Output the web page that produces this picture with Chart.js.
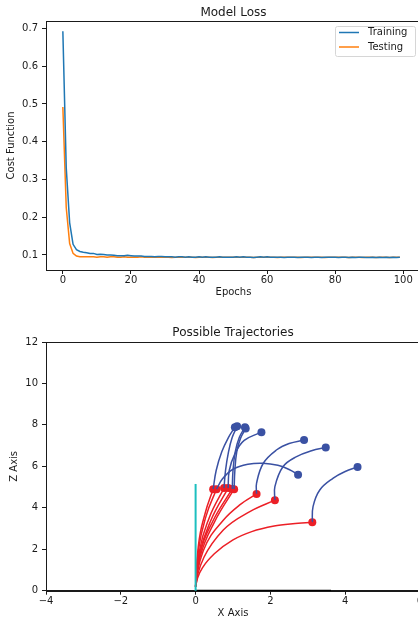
<!DOCTYPE html>
<html>
<head>
<meta charset="utf-8">
<script src="https://cdn.jsdelivr.net/npm/chart.js@4.4.1/dist/chart.umd.min.js"></script>
<style>
  html, body { margin: 0; padding: 0; overflow: hidden; background: #fff; width: 418px; height: 617px; }
  canvas { position: absolute; left: 0; display: block; }
  #lossChart { top: 0; }
  #trajChart { top: 305px; }
</style>
</head>
<body>
<canvas id="lossChart" width="430" height="305"></canvas>
<canvas id="trajChart" width="430" height="320"></canvas>
<script>
// Loss per epoch
const epochs = Array.from({ length: 100 }, (_, i) => i);
const trainingLoss = [
  0.693, 0.330, 0.185, 0.128, 0.114, 0.109, 0.107, 0.106, 0.104, 0.104,
  0.101, 0.102, 0.101, 0.100, 0.100, 0.099, 0.098, 0.098, 0.098, 0.099,
  0.098, 0.097, 0.097, 0.097, 0.096, 0.096, 0.096, 0.095, 0.096, 0.096,
  0.095, 0.095, 0.095, 0.094, 0.095, 0.095, 0.094, 0.095, 0.094, 0.094,
  0.095, 0.094, 0.095, 0.094, 0.094, 0.094, 0.095, 0.094, 0.094, 0.094,
  0.094, 0.095, 0.094, 0.095, 0.094, 0.094, 0.093, 0.094, 0.095, 0.094,
  0.095, 0.094, 0.094, 0.094, 0.094, 0.093, 0.094, 0.094, 0.094, 0.093,
  0.094, 0.094, 0.094, 0.093, 0.094, 0.094, 0.093, 0.094, 0.094, 0.094,
  0.094, 0.093, 0.094, 0.094, 0.093, 0.094, 0.093, 0.094, 0.094, 0.093,
  0.093, 0.094, 0.093, 0.094, 0.093, 0.094, 0.093, 0.094, 0.093, 0.094
];
const testingLoss = [
  0.492, 0.225, 0.130, 0.104, 0.097, 0.095, 0.095, 0.095, 0.095, 0.095,
  0.094, 0.095, 0.095, 0.094, 0.095, 0.095, 0.094, 0.094, 0.095, 0.094,
  0.094, 0.094, 0.094, 0.095, 0.094, 0.094, 0.094, 0.094, 0.094, 0.094,
  0.094, 0.094, 0.093, 0.094, 0.094, 0.094, 0.094, 0.094, 0.094, 0.093,
  0.094, 0.094, 0.094, 0.094, 0.093, 0.094, 0.094, 0.094, 0.094, 0.094,
  0.094, 0.094, 0.094, 0.094, 0.094, 0.094, 0.093, 0.094, 0.094, 0.094,
  0.094, 0.094, 0.094, 0.093, 0.094, 0.094, 0.094, 0.094, 0.094, 0.094,
  0.093, 0.094, 0.094, 0.094, 0.094, 0.094, 0.094, 0.093, 0.094, 0.094,
  0.094, 0.094, 0.094, 0.094, 0.093, 0.094, 0.094, 0.094, 0.093, 0.094,
  0.094, 0.094, 0.093, 0.094, 0.094, 0.094, 0.093, 0.094, 0.094, 0.094
];
const lossXTicks = [0, 20, 40, 60, 80, 100];
const lossYTicks = [0.1, 0.2, 0.3, 0.4, 0.5, 0.6, 0.7];

// Trajectories in the x/z plane: launch arc (red) then second leg (blue)
const redPaths = [
  [[0, 0.2], [0.02, 0.9], [0.07, 2.1], [0.25, 3.7], [0.47, 4.90]],
  [[0, 0.2], [0.02, 0.9], [0.08, 2.0], [0.28, 3.6], [0.56, 4.90]],
  [[0, 0.2], [0.03, 0.9], [0.10, 1.9], [0.36, 3.5], [0.76, 4.95]],
  [[0, 0.2], [0.03, 0.9], [0.11, 1.8], [0.41, 3.4], [0.87, 4.95]],
  [[0, 0.2], [0.03, 0.85], [0.12, 1.8], [0.46, 3.35], [0.98, 4.91]],
  [[0, 0.2], [0.03, 0.8], [0.13, 1.7], [0.50, 3.3], [1.03, 4.90]],
  [[0, 0.2], [0.05, 0.9], [0.20, 1.9], [0.74, 3.4], [1.18, 4.14], [1.63, 4.67]],
  [[0, 0.2], [0.06, 0.8], [0.22, 1.6], [0.74, 2.93], [1.45, 3.82], [2.12, 4.37]],
  [[0, 0.2], [0.05, 0.6], [0.20, 1.15], [0.50, 1.78], [1.00, 2.45], [1.50, 2.85], [2.10, 3.12], [2.60, 3.23], [3.12, 3.30]]
];
const bluePaths = [
  [[0.47, 4.90], [0.55, 5.8], [0.70, 6.7], [0.88, 7.4], [1.05, 7.89]],
  [[0.56, 4.90], [0.72, 5.4], [1.00, 5.86], [1.40, 6.10], [1.80, 6.15], [2.20, 6.05], [2.50, 5.85], [2.74, 5.60]],
  [[0.76, 4.95], [0.80, 5.8], [0.88, 6.7], [0.98, 7.4], [1.11, 7.93]],
  [[0.87, 4.95], [0.90, 5.8], [1.05, 6.6], [1.30, 7.25], [1.76, 7.65]],
  [[0.98, 4.91], [1.00, 5.8], [1.06, 6.7], [1.17, 7.4], [1.32, 7.89]],
  [[1.03, 4.90], [1.05, 5.8], [1.10, 6.7], [1.20, 7.35], [1.34, 7.83]],
  [[1.63, 4.67], [1.63, 5.19], [1.81, 6.15], [2.17, 6.80], [2.50, 7.10], [2.90, 7.27]],
  [[2.12, 4.37], [2.12, 5.02], [2.34, 5.99], [2.70, 6.47], [3.10, 6.75], [3.48, 6.91]],
  [[3.12, 3.30], [3.14, 4.06], [3.32, 4.86], [3.68, 5.43], [4.00, 5.75], [4.33, 5.97]]
];
const towerLine = [[0, 0], [0, 5.15]];
const groundLine = [[0, 0], [3.62, 0]];
const trajXTicks = [-4, -2, 0, 2, 4, 6];
const trajYTicks = [0, 2, 4, 6, 8, 10, 12];

const INK = '#1a1a1a';
const RED = '#ec1f26';
const BLUE = '#3a51a3';

Chart.defaults.font.family = "'DejaVu Sans', sans-serif";
Chart.defaults.font.size = 10;
Chart.defaults.color = INK;
Chart.defaults.animation = false;

const toXY = pts => pts.map(p => ({ x: p[0], y: p[1] }));
const fixedTicks = list => scale => { scale.ticks = list.map(v => ({ value: v })); };
const minus = v => String(v).replace('-', '\u2212');

// box around the plot area, like a matplotlib axes frame
const frame = {
  id: 'frame',
  afterDraw(chart) {
    const { ctx, chartArea: a } = chart;
    ctx.save();
    ctx.strokeStyle = INK;
    ctx.lineWidth = 1;
    ctx.strokeRect(Math.round(a.left) + 0.5, Math.round(a.top) + 0.5,
      Math.round(a.right - a.left), Math.round(a.bottom - a.top));
    ctx.restore();
  }
};

// legend drawn inside the axes, top right
const boxLegend = {
  id: 'boxLegend',
  afterDraw(chart) {
    const { ctx } = chart;
    const x0 = 335.5, y0 = 26.5, w = 80, h = 30;
    ctx.save();
    ctx.beginPath();
    ctx.roundRect(x0, y0, w, h, 2);
    ctx.fillStyle = 'rgba(255,255,255,0.8)';
    ctx.fill();
    ctx.strokeStyle = '#d6d6d6';
    ctx.lineWidth = 1;
    ctx.stroke();
    ctx.font = "10px 'DejaVu Sans'";
    ctx.textBaseline = 'middle';
    chart.data.datasets.forEach((ds, i) => {
      const y = 32.5 + i * 14.5;
      ctx.strokeStyle = ds.borderColor;
      ctx.lineWidth = 1.5;
      ctx.beginPath();
      ctx.moveTo(339, y);
      ctx.lineTo(359, y);
      ctx.stroke();
      ctx.fillStyle = INK;
      ctx.fillText(ds.label, 368, y);
    });
    ctx.restore();
  }
};

new Chart(document.getElementById('lossChart'), {
  type: 'line',
  data: {
    datasets: [
      {
        label: 'Training',
        data: epochs.map((e, i) => ({ x: e, y: trainingLoss[i] })),
        borderColor: '#1f77b4',
        borderWidth: 1.5,
        pointRadius: 0,
        tension: 0
      },
      {
        label: 'Testing',
        data: epochs.map((e, i) => ({ x: e, y: testingLoss[i] })),
        borderColor: '#ff7f0e',
        borderWidth: 1.5,
        pointRadius: 0,
        tension: 0
      }
    ]
  },
  options: {
    responsive: false,
    layout: { padding: { left: 0, right: 9, top: 0, bottom: 0 } },
    plugins: {
      legend: { display: false },
      tooltip: { enabled: false },
      title: {
        display: true,
        text: 'Model Loss',
        fullSize: false,
        color: INK,
        font: { size: 12, weight: 'normal' },
        padding: { top: 5.3, bottom: 1.3 }
      }
    },
    scales: {
      x: {
        type: 'linear',
        min: -4.95,
        max: 105.2,
        afterBuildTicks: fixedTicks(lossXTicks),
        afterFit: s => { s.height = 35; },
        grid: { drawOnChartArea: false, tickLength: 4, color: INK },
        border: { color: INK },
        ticks: { padding: 0, maxRotation: 0, callback: v => minus(v) },
        title: { display: true, text: 'Epochs', padding: { top: 0, bottom: 6.3 } }
      },
      y: {
        min: 0.06,
        max: 0.72,
        afterBuildTicks: fixedTicks(lossYTicks),
        afterFit: s => { s.width = 46; },
        grid: { drawOnChartArea: false, tickLength: 4, color: INK },
        border: { color: INK },
        ticks: { padding: 4, callback: v => v.toFixed(1) },
        title: { display: true, text: 'Cost Function', padding: { top: 5, bottom: 0 } }
      }
    }
  },
  plugins: [frame, boxLegend]
});

const pathSet = (pts, color) => ({
  data: toXY(pts),
  showLine: true,
  borderColor: color,
  borderWidth: 1.5,
  pointRadius: 0,
  tension: 0.4,
  clip: false
});
const launchSet = (pts, color) => ({
  ...pathSet(pts, color),
  cubicInterpolationMode: 'monotone'
});
const dotSet = (pts, color) => ({
  data: toXY(pts),
  showLine: false,
  backgroundColor: color,
  borderColor: color,
  pointRadius: 4,
  borderWidth: 0
});

new Chart(document.getElementById('trajChart'), {
  type: 'scatter',
  data: {
    datasets: [
      { ...pathSet(towerLine, '#1cbfbf'), borderWidth: 2, tension: 0 },
      { ...pathSet(groundLine, '#000000'), borderWidth: 2, tension: 0 },
      ...redPaths.map(p => launchSet(p, RED)),
      ...bluePaths.map(p => pathSet(p, BLUE)),
      dotSet(redPaths.map(p => p[p.length - 1]), RED),
      dotSet(bluePaths.map(p => p[p.length - 1]), BLUE)
    ]
  },
  options: {
    responsive: false,
    layout: { padding: { left: 0, right: 10, top: 0, bottom: 0 } },
    plugins: {
      legend: { display: false },
      tooltip: { enabled: false },
      title: {
        display: true,
        text: 'Possible Trajectories',
        fullSize: false,
        color: INK,
        font: { size: 12, weight: 'normal' },
        padding: { top: 21, bottom: 1.6 }
      }
    },
    scales: {
      x: {
        type: 'linear',
        min: -4,
        max: 6,
        afterBuildTicks: fixedTicks(trajXTicks),
        afterFit: s => { s.height = 34.3; },
        grid: { drawOnChartArea: false, tickLength: 4, color: INK },
        border: { color: INK },
        ticks: { padding: 1, maxRotation: 0, callback: v => minus(v) },
        title: { display: true, text: 'X Axis', padding: { top: 0, bottom: 6 } }
      },
      y: {
        min: 0,
        max: 12,
        afterBuildTicks: fixedTicks(trajYTicks),
        afterFit: s => { s.width = 46; },
        grid: { drawOnChartArea: false, tickLength: 4, color: INK },
        border: { color: INK },
        ticks: { padding: 4 },
        title: { display: true, text: 'Z Axis', padding: { top: 8, bottom: 0 } }
      }
    }
  },
  plugins: [frame]
});
</script>
</body>
</html>
